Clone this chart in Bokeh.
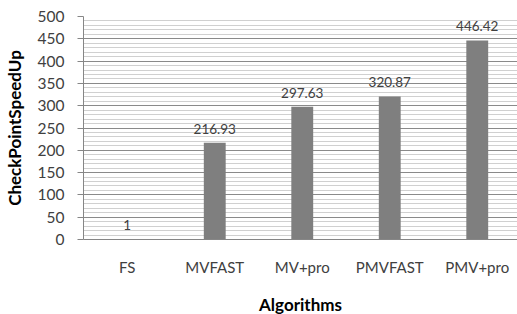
from bokeh.plotting import figure
from bokeh.models import Range1d, FixedTicker, SingleIntervalTicker, ColumnDataSource
from bokeh.core.properties import value
from bokeh.embed import file_html
from bokeh.resources import INLINE

categories = ["FS", "MVFAST", "MV+pro", "PMVFAST", "PMV+pro"]
speedup = [1, 216.93, 297.63, 320.87, 446.42]
labels = ["1", "216.93", "297.63", "320.87", "446.42"]

xpos = [i + 0.5 for i in range(len(categories))]
src = ColumnDataSource(dict(x=xpos, top=speedup, lab=labels))

FONT = "Lato"

p = figure(frame_width=434, frame_height=223, output_backend="svg", toolbar_location=None,
           x_range=Range1d(0, 4.96), y_range=Range1d(0, 500),
           min_border_left=83, min_border_right=0, min_border_top=16, min_border_bottom=75)
p.outline_line_color = None
p.background_fill_color = "white"

p.vbar(x="x", top="top", width=0.25, bottom=0, source=src,
       fill_color="#7f7f7f", line_color=None)
p.text(x="x", y="top", text="lab", source=src, y_offset=-14,
       text_align="center", text_baseline="middle",
       text_font=value(FONT), text_font_size="13.5px", text_color="#404040")

# x axis
p.xaxis.ticker = FixedTicker(ticks=xpos)
p.xaxis.major_label_overrides = {x: c for x, c in zip(xpos, categories)}
p.xaxis.major_tick_line_color = None
p.xaxis.major_tick_out = 0
p.xaxis.major_tick_in = 0
p.xaxis.minor_tick_line_color = None
p.xaxis.axis_line_color = "#868686"
p.xaxis.major_label_standoff = 18
p.xaxis.major_label_text_font = FONT
p.xaxis.major_label_text_font_size = "15px"
p.xaxis.major_label_text_color = "#404040"
p.xaxis.axis_label = "Algorithms"
p.xaxis.axis_label_text_font = FONT
p.xaxis.axis_label_text_font_size = "17px"
p.xaxis.axis_label_text_font_style = "bold"
p.xaxis.axis_label_text_color = "#000000"
p.xaxis.axis_label_standoff = 15
p.xgrid.grid_line_color = None

# y axis
p.yaxis.ticker = SingleIntervalTicker(interval=50, num_minor_ticks=5)
p.yaxis.major_tick_in = 0
p.yaxis.major_tick_out = 6
p.yaxis.minor_tick_line_color = None
p.yaxis.major_tick_line_color = "#868686"
p.yaxis.axis_line_color = "#868686"
p.yaxis.major_label_standoff = 13
p.yaxis.major_label_text_font = FONT
p.yaxis.major_label_text_font_size = "15.5px"
p.yaxis.major_label_text_color = "#404040"
p.yaxis.axis_label = "CheckPointSpeedUp"
p.yaxis.axis_label_text_font = FONT
p.yaxis.axis_label_text_font_size = "17px"
p.yaxis.axis_label_text_font_style = "bold"
p.yaxis.axis_label_text_color = "#000000"
p.yaxis.axis_label_standoff = 10
p.ygrid.grid_line_color = "#8a8a8a"
p.ygrid.minor_grid_line_color = "#d0d0d0"

open("out.html", "w").write(file_html(p, INLINE))
